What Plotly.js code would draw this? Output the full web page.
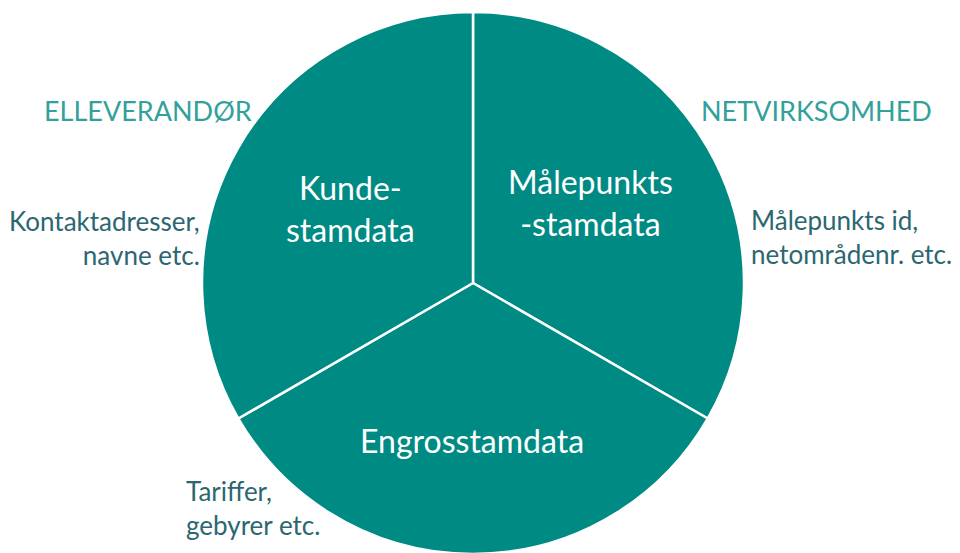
<!DOCTYPE html>
<html><head><meta charset="utf-8">
<script src="https://cdn.plot.ly/plotly-3.0.1.min.js"></script>
<style>html,body{margin:0;padding:0;overflow:hidden;background:#fff;width:960px;height:553px}</style>
</head><body><div id="c"></div>
<script>
const slices = ["Målepunkts<br>-stamdata", "Engrosstamdata", "Kunde-<br>stamdata"];
const values = [1, 1, 1];
const roles = ["ELLEVERANDØR", "NETVIRKSOMHED"];
const notes = ["Kontaktadresser,<br>navne etc.", "Målepunkts id,<br>netområdenr. etc.", "Tariffer,<br>gebyrer etc."];

const teal = "#008A84";
const dark = "#2C6771";
const light = "#33A19B";
const F = "Lato, 'Open Sans', sans-serif";
const W = 960, H = 560, mt = 12, mb = 6;
const cx = 473, r = 271;

const trace = {
  type: "pie", labels: slices, values: values, sort: false, direction: "clockwise", rotation: 0,
  marker: {colors: [teal, teal, teal], line: {color: "#ffffff", width: 2.5}},
  textinfo: "none", hoverinfo: "none", showlegend: false,
  domain: {x: [(cx - r) / W, (cx + r) / W], y: [0, 1]}
};

function px(x){return x / W;}
function py(y){return 1 - (y - mt) / (H - mt - mb);}

const annotations = [
  {text: slices[0], x: px(590), y: py(202), font: {size: 32, color: "#ffffff", family: F}},
  {text: slices[1], x: px(472), y: py(440), font: {size: 32, color: "#ffffff", family: F}},
  {text: slices[2], x: px(350), y: py(208), font: {size: 32, color: "#ffffff", family: F}},
  {text: roles[0], x: px(42), y: py(110), xanchor: "left", font: {size: 27, color: light, family: F}},
  {text: roles[1], x: px(699), y: py(110), xanchor: "left", font: {size: 27, color: light, family: F}},
  {text: notes[0], x: px(202), y: py(238), xanchor: "right", align: "right", font: {size: 26, color: dark, family: F}},
  {text: notes[1], x: px(749), y: py(237), xanchor: "left", align: "left", font: {size: 26, color: dark, family: F}},
  {text: notes[2], x: px(184), y: py(508), xanchor: "left", align: "left", font: {size: 26, color: dark, family: F}}
].map(a => Object.assign({xref: "paper", yref: "paper", showarrow: false, yanchor: "middle"}, a));

Plotly.newPlot("c", [trace], {
  width: W, height: H, margin: {l: 0, r: 0, t: mt, b: mb, pad: 0},
  paper_bgcolor: "#ffffff", plot_bgcolor: "#ffffff",
  annotations: annotations
}, {staticPlot: true, displayModeBar: false});
</script></body></html>
